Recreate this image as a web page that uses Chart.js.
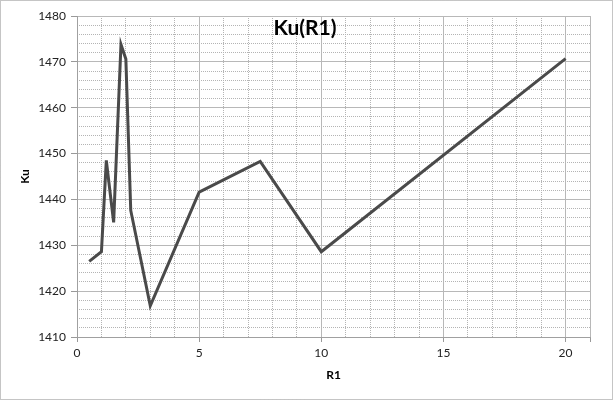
<!DOCTYPE html>
<html>
<head>
<meta charset="utf-8">
<script src="https://cdn.jsdelivr.net/npm/chart.js@4/dist/chart.umd.min.js"></script>
<style>
  body { margin: 0; background: #fff; }
  canvas { display: block; }
</style>
</head>
<body>
<canvas id="kuChart" width="613" height="400"></canvas>
<script>
// Data
const r1Values = [0.5, 1, 1.2, 1.5, 1.8, 2, 2.2, 3, 5, 7.5, 10, 20];
const kuValues = [1426.5, 1428.6, 1448.5, 1435, 1473.8, 1470.6, 1437.6, 1416.8, 1441.6, 1448.3, 1428.6, 1470.7];
const xTickLabels = [0, 5, 10, 15, 20];
const yTickLabels = [1410, 1420, 1430, 1440, 1450, 1460, 1470, 1480];

const chartTitle = 'Ku(R1)';
const xTitle = 'R1';
const yTitle = 'Ku';

const fontFamily = 'Lato, "Open Sans", sans-serif';

// Border round the whole picture + overlay title
const framePlugin = {
    id: 'frame',
    afterDraw(chart) {
        const ctx = chart.ctx;
        ctx.save();
        ctx.strokeStyle = '#8a8a8a';
        ctx.lineWidth = 1;
        ctx.setLineDash([1, 1]);
        ctx.strokeRect(0.5, 0.5, chart.width - 1, chart.height - 1);
        ctx.setLineDash([]);
        ctx.fillStyle = '#000';
        ctx.font = 'bold 21px ' + fontFamily;
        ctx.textAlign = 'center';
        ctx.textBaseline = 'middle';
        ctx.fillText(chartTitle, 305, 28);
        ctx.restore();
    }
};

const points = r1Values.map((x, i) => ({ x: x, y: kuValues[i] }));

new Chart(document.getElementById('kuChart').getContext('2d'), {
    type: 'scatter',
    data: {
        datasets: [{
            data: points,
            showLine: true,
            borderColor: '#4a4a4a',
            borderWidth: 3,
            pointRadius: 0,
            tension: 0,
            fill: false
        }]
    },
    options: {
        responsive: false,
        animation: false,
        layout: { padding: { top: 16, right: 23, bottom: 0, left: 0 } },
        plugins: {
            legend: { display: false },
            tooltip: { enabled: false }
        },
        scales: {
            // minor gridlines (dotted)
            x2: {
                type: 'linear',
                position: 'bottom',
                min: 0,
                max: 21,
                ticks: { display: false, stepSize: 1 },
                grid: { color: '#b4b4b4', drawTicks: false },
                border: { display: false, dash: [1, 1] },
                afterFit: s => { s.height = 0; }
            },
            y2: {
                type: 'linear',
                position: 'left',
                min: 1410,
                max: 1480,
                ticks: { display: false, stepSize: 2 },
                grid: { color: '#b4b4b4', drawTicks: false },
                border: { display: false, dash: [1, 1] },
                afterFit: s => { s.width = 0; }
            },
            x: {
                type: 'linear',
                position: 'bottom',
                min: 0,
                max: 21,
                ticks: {
                    stepSize: 5,
                    padding: 4,
                    color: '#222',
                    font: { family: fontFamily, size: 12 },
                    callback: v => xTickLabels.includes(v) ? v : ''
                },
                grid: { color: '#b8b8b8', tickLength: 5, tickColor: '#999' },
                border: { color: '#a0a0a0' },
                title: {
                    display: true,
                    text: xTitle,
                    color: '#000',
                    font: { family: fontFamily, size: 12, weight: 'bold' },
                    padding: { top: 0, bottom: 18 }
                },
                afterFit: s => { s.height = 63; }
            },
            y: {
                type: 'linear',
                position: 'left',
                min: 1410,
                max: 1480,
                ticks: {
                    stepSize: 10,
                    padding: 5,
                    color: '#222',
                    font: { family: fontFamily, size: 12 },
                    callback: v => yTickLabels.includes(v) ? v : ''
                },
                grid: { color: '#b8b8b8', tickLength: 6, tickColor: '#999' },
                border: { color: '#a0a0a0' },
                title: {
                    display: true,
                    text: yTitle,
                    color: '#000',
                    font: { family: fontFamily, size: 12, weight: 'bold' },
                    padding: { top: 18, bottom: 0 }
                },
                afterFit: s => { s.width = 77; }
            }
        }
    },
    plugins: [framePlugin]
});
</script>
</body>
</html>
